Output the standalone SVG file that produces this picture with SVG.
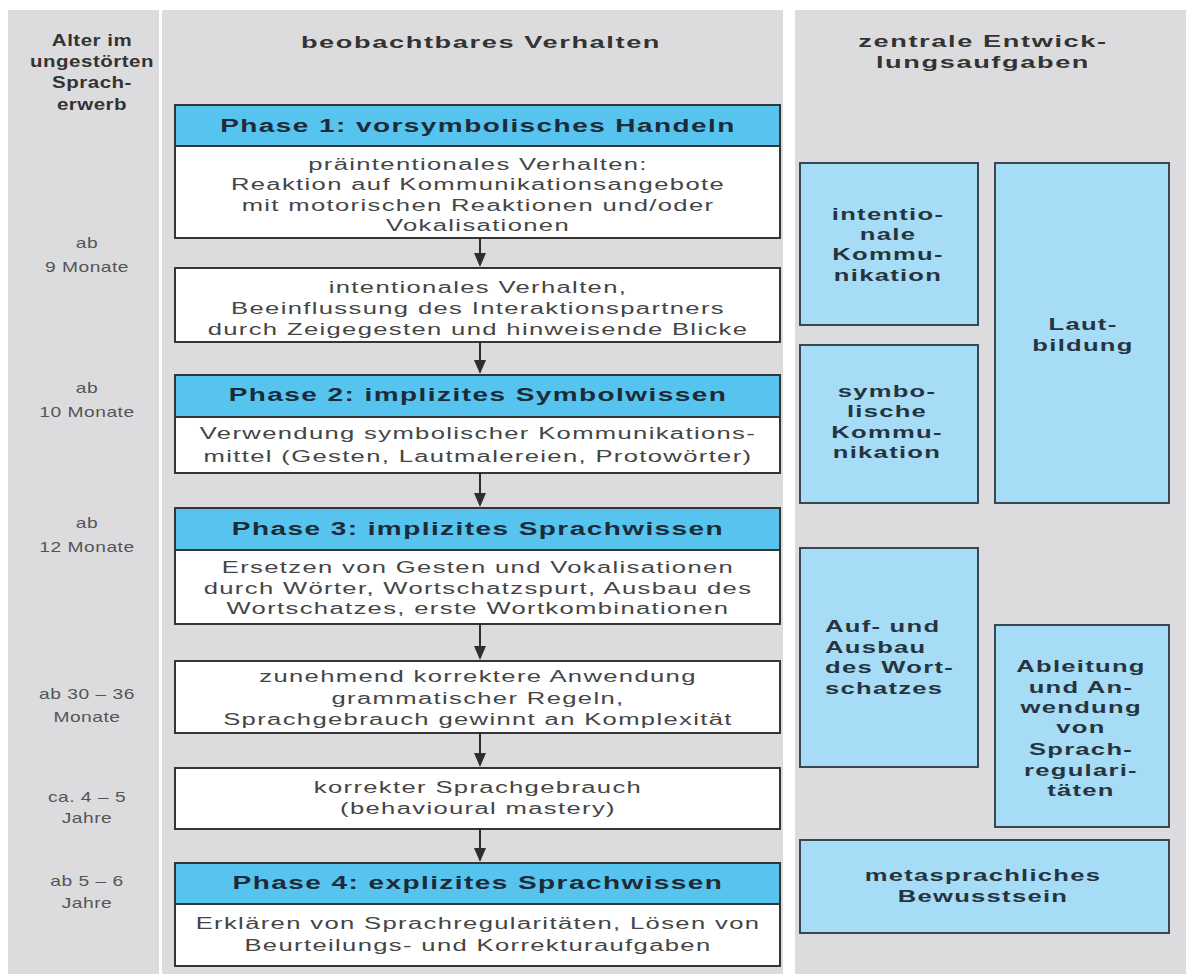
<svg xmlns="http://www.w3.org/2000/svg" width="1189" height="975" viewBox="0 0 1189 975">
  <defs>
    <marker id="head" markerUnits="userSpaceOnUse" markerWidth="14" markerHeight="12" refX="4" refY="6" orient="auto">
      <path d="M0,0 L14,6 L0,12 Z" fill="#2e2e2e"/>
    </marker>
  </defs>
  <style>
    .pan{fill:#dcdcdf}
    .hd{fill:#56c4ef;stroke:#353535;stroke-width:2}
    .bd{fill:#ffffff;stroke:#353535;stroke-width:2}
    .tb{fill:#a7dcf6;stroke:#3a4753;stroke-width:2}
    .arr{stroke:#2e2e2e;stroke-width:2;fill:none;marker-end:url(#head)}
    text{font-family:"Liberation Sans",Arial,Helvetica,sans-serif;text-anchor:middle;transform-box:fill-box;transform-origin:center;transform:scaleX(1.6)}
    .col{font-weight:bold;font-size:17px;fill:#333333;letter-spacing:1px}
    .colL{font-weight:bold;font-size:16px;fill:#333333;letter-spacing:0.4px;transform:scaleX(1.28)}
    .age{font-size:15px;fill:#555555;letter-spacing:0.4px;transform:scaleX(1.28)}
    .ph{font-weight:bold;font-size:17.5px;fill:#1d2b38;letter-spacing:0.9px}
    .body{font-size:16px;fill:#454545;letter-spacing:0.85px}
    .task{font-weight:bold;font-size:16px;fill:#26343f;letter-spacing:0.8px}
    .lft{text-anchor:start;transform-origin:left center}
  </style>

  <rect width="1189" height="975" fill="#ffffff"/>

  <!-- column panels -->
  <g id="panels">
    <rect class="pan" x="8" y="10" width="151" height="964"/>
    <rect class="pan" x="162" y="10" width="621" height="964"/>
    <rect class="pan" x="795" y="10" width="391" height="964"/>
  </g>

  <!-- column headings -->
  <g id="heading-age">
    <text class="colL" x="92" y="46">Alter im</text>
    <text class="colL" x="92" y="67">ungestörten</text>
    <text class="colL" x="92" y="88">Sprach-</text>
    <text class="colL" x="92" y="110">erwerb</text>
  </g>
  <g id="heading-behaviour">
    <text class="col" x="481" y="48">beobachtbares Verhalten</text>
  </g>
  <g id="heading-tasks">
    <text class="col" x="983" y="47">zentrale Entwick-</text>
    <text class="col" x="983" y="68">lungsaufgaben</text>
  </g>

  <!-- age labels -->
  <g id="ages">
    <text class="age" x="87" y="248">ab</text>
    <text class="age" x="87" y="272">9 Monate</text>
    <text class="age" x="87" y="393">ab</text>
    <text class="age" x="87" y="417">10 Monate</text>
    <text class="age" x="87" y="528">ab</text>
    <text class="age" x="87" y="552">12 Monate</text>
    <text class="age" x="87" y="699">ab 30 – 36</text>
    <text class="age" x="87" y="722">Monate</text>
    <text class="age" x="87" y="802">ca. 4 – 5</text>
    <text class="age" x="87" y="823">Jahre</text>
    <text class="age" x="87" y="886">ab 5 – 6</text>
    <text class="age" x="87" y="908">Jahre</text>
  </g>

  <!-- behaviour flow -->
  <g id="phase1">
    <rect class="bd" x="175" y="146" width="605" height="92"/>
    <rect class="hd" x="175" y="105" width="605" height="41"/>
    <text class="ph" x="478" y="132">Phase 1: vorsymbolisches Handeln</text>
    <text class="body" x="478" y="170">präintentionales Verhalten:</text>
    <text class="body" x="478" y="190">Reaktion auf Kommunikationsangebote</text>
    <text class="body" x="478" y="211">mit motorischen Reaktionen und/oder</text>
    <text class="body" x="478" y="231">Vokalisationen</text>
  </g>
  <g id="intentional">
    <rect class="bd" x="175" y="268" width="605" height="74"/>
    <text class="body" x="478" y="293">intentionales Verhalten,</text>
    <text class="body" x="478" y="314">Beeinflussung des Interaktionspartners</text>
    <text class="body" x="478" y="335">durch Zeigegesten und hinweisende Blicke</text>
  </g>
  <g id="phase2">
    <rect class="bd" x="175" y="417" width="605" height="56"/>
    <rect class="hd" x="175" y="375" width="605" height="42"/>
    <text class="ph" x="478" y="401">Phase 2: implizites Symbolwissen</text>
    <text class="body" x="478" y="439">Verwendung symbolischer Kommunikations-</text>
    <text class="body" x="478" y="462">mittel (Gesten, Lautmalereien, Protowörter)</text>
  </g>
  <g id="phase3">
    <rect class="bd" x="175" y="550" width="605" height="74"/>
    <rect class="hd" x="175" y="508" width="605" height="42"/>
    <text class="ph" x="478" y="535">Phase 3: implizites Sprachwissen</text>
    <text class="body" x="478" y="573">Ersetzen von Gesten und Vokalisationen</text>
    <text class="body" x="478" y="594">durch Wörter, Wortschatzspurt, Ausbau des</text>
    <text class="body" x="478" y="614">Wortschatzes, erste Wortkombinationen</text>
  </g>
  <g id="grammar">
    <rect class="bd" x="175" y="661" width="605" height="72"/>
    <text class="body" x="478" y="682">zunehmend korrektere Anwendung</text>
    <text class="body" x="478" y="704">grammatischer Regeln,</text>
    <text class="body" x="478" y="725">Sprachgebrauch gewinnt an Komplexität</text>
  </g>
  <g id="mastery">
    <rect class="bd" x="175" y="768" width="605" height="61"/>
    <text class="body" x="478" y="793">korrekter Sprachgebrauch</text>
    <text class="body" x="478" y="814">(behavioural mastery)</text>
  </g>
  <g id="phase4">
    <rect class="bd" x="175" y="904" width="605" height="62"/>
    <rect class="hd" x="175" y="863" width="605" height="41"/>
    <text class="ph" x="478" y="889">Phase 4: explizites Sprachwissen</text>
    <text class="body" x="478" y="929">Erklären von Sprachregularitäten, Lösen von</text>
    <text class="body" x="478" y="951">Beurteilungs- und Korrekturaufgaben</text>
  </g>

  <g id="connectors">
    <line class="arr" x1="480" y1="238" x2="480" y2="257"/>
    <line class="arr" x1="480" y1="342" x2="480" y2="364"/>
    <line class="arr" x1="480" y1="473" x2="480" y2="497"/>
    <line class="arr" x1="480" y1="624" x2="480" y2="650"/>
    <line class="arr" x1="480" y1="733" x2="480" y2="757"/>
    <line class="arr" x1="480" y1="829" x2="480" y2="852"/>
  </g>

  <!-- developmental tasks -->
  <g id="task-intentional">
    <rect class="tb" x="800" y="163" width="178" height="162"/>
    <text class="task" x="888" y="220">intentio-</text>
    <text class="task" x="888" y="240">nale</text>
    <text class="task" x="888" y="260">Kommu-</text>
    <text class="task" x="888" y="281">nikation</text>
  </g>
  <g id="task-sounds">
    <rect class="tb" x="995" y="163" width="174" height="340"/>
    <text class="task" x="1083" y="330">Laut-</text>
    <text class="task" x="1083" y="351">bildung</text>
  </g>
  <g id="task-symbolic">
    <rect class="tb" x="800" y="345" width="178" height="158"/>
    <text class="task" x="887" y="397">symbo-</text>
    <text class="task" x="887" y="417">lische</text>
    <text class="task" x="887" y="438">Kommu-</text>
    <text class="task" x="887" y="458">nikation</text>
  </g>
  <g id="task-vocabulary">
    <rect class="tb" x="800" y="548" width="178" height="219"/>
    <text class="task lft" x="825" y="632">Auf- und</text>
    <text class="task lft" x="825" y="653">Ausbau</text>
    <text class="task lft" x="825" y="673">des Wort-</text>
    <text class="task lft" x="825" y="694">schatzes</text>
  </g>
  <g id="task-regularities">
    <rect class="tb" x="995" y="625" width="174" height="202"/>
    <text class="task" x="1081" y="672">Ableitung</text>
    <text class="task" x="1081" y="693">und An-</text>
    <text class="task" x="1081" y="713">wendung</text>
    <text class="task" x="1081" y="733">von</text>
    <text class="task" x="1081" y="755">Sprach-</text>
    <text class="task" x="1081" y="776">regulari-</text>
    <text class="task" x="1081" y="796">täten</text>
  </g>
  <g id="task-metalinguistic">
    <rect class="tb" x="800" y="840" width="369" height="93"/>
    <text class="task" x="983" y="881">metasprachliches</text>
    <text class="task" x="983" y="902">Bewusstsein</text>
  </g>
</svg>
